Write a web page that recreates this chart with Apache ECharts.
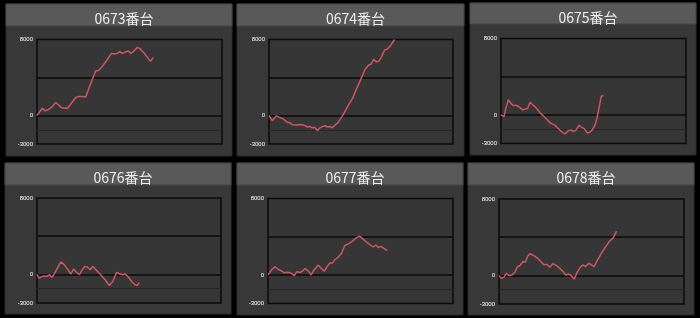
<!DOCTYPE html>
<html>
<head>
<meta charset="utf-8">
<script src="https://cdn.jsdelivr.net/npm/echarts@6/dist/echarts.min.js"></script>
<style>
  html, body { margin: 0; padding: 0; background: #000; }
  #chart { width: 700px; height: 318px; }
</style>
</head>
<body>
<div id="chart"></div>
<script>
// Machine names shown in each panel header
const machines = ['0673番台', '0674番台', '0675番台', '0676番台', '0677番台', '0678番台'];

// Y-axis range and the labelled ticks
const yMin = -3000;
const yMax = 8000;
const yTickLabels = [8000, 0, -3000];
// Horizontal reference lines inside each plot
const strongLines = [4000, 0];
const faintLines = [-1500];

// Game count (x) and coin difference (y) for each machine
const games0673 = [0,289,433,650,830,1011,1191,1336,1498,1643,1859,2094,2220,2310,2455,2635,2708,2942,3177,3321,3484,3718,4025,4170,4332,4477,4621,4801,4946,5072,5235,5415,5560,5776,6011,6137,6282];
const diff0673  = [0,770,490,660,940,1360,1080,800,800,730,1290,1890,1990,1890,1990,1960,2130,3570,4720,4720,5070,5660,6540,6470,6540,6710,6540,6710,6780,6540,6780,7170,7060,6610,6010,5700,6120];

const games0674 = [0,90,181,289,415,542,722,866,993,1119,1264,1372,1480,1588,1715,1805,1949,2076,2202,2347,2491,2635,2744,2924,3069,3195,3321,3430,3538,3755,4025,4296,4549,4693,4910,5090,5235,5415,5560,5686,5812,5957,6101,6282,6408,6588,6823];
const diff0674  = [0,-280,-520,-560,-30,-170,-310,-520,-730,-730,-980,-870,-1010,-870,-940,-1150,-1050,-1220,-1150,-1290,-1260,-1610,-1330,-1150,-1080,-1220,-1150,-1290,-1220,-730,70,1010,1820,2520,3460,4270,4900,5320,5420,5910,5670,5700,6120,6890,6960,7310,8000];

const games0675 = [0,90,162,253,397,523,668,794,939,1047,1173,1300,1444,1570,1697,1841,1986,2112,2292,2473,2653,2888,3069,3249,3466,3646,3791,3917,4061,4224,4368,4513,4657,4801,4946,5090,5199,5307,5415,5542];
const diff0675  = [0,-180,-180,630,1580,1230,950,1020,880,700,530,600,700,1330,1090,840,530,210,-110,-460,-840,-1050,-1370,-1720,-2000,-1650,-1580,-1750,-1580,-1090,-1300,-1470,-1890,-1820,-1540,-1020,-250,810,1930,2040];

const games0676 = [0,108,217,361,542,686,812,939,1119,1300,1480,1661,1841,1986,2130,2310,2455,2599,2744,2888,3032,3249,3466,3700,3935,4116,4332,4513,4657,4801,4964,5144,5325,5451,5560];
const diff0676  = [0,-390,-280,-180,-210,-40,-320,40,670,1300,1020,560,40,560,250,-40,460,840,740,490,840,390,-40,-560,-1160,-740,210,40,-40,40,-280,-740,-1090,-1160,-840];

const games0677 = [0,199,379,560,740,884,1065,1245,1426,1552,1733,1859,2004,2184,2328,2509,2726,2906,3051,3177,3357,3484,3628,3809,3989,4134,4260,4440,4621,4747,4946,5108,5289,5487,5686,5830,5975,6119,6264,6444];
const diff0677  = [0,530,850,560,390,210,280,180,-70,320,250,390,670,390,0,560,1020,630,390,810,1270,1230,1620,1870,2320,3030,3170,3350,3630,3840,4050,3800,3490,3200,2920,3130,2850,2990,2780,2540];

const games0678 = [0,126,271,397,542,704,848,993,1137,1300,1426,1534,1661,1787,1931,2076,2256,2437,2581,2744,2924,3105,3285,3466,3610,3773,3917,4061,4242,4422,4549,4675,4855,4999,5144,5325,5542,5758,5975,6173,6354];
const diff0678  = [0,-320,-180,210,-40,40,320,890,1030,1450,1380,1950,2270,2160,2020,1810,1450,1100,1170,850,1240,1030,740,390,40,140,-40,-390,390,920,1100,920,1270,1100,920,1630,2340,2970,3580,3930,4640];

const gamesList = [games0673, games0674, games0675, games0676, games0677, games0678];
const diffList  = [diff0673, diff0674, diff0675, diff0676, diff0677, diff0678];

// Panel frames (outer box, header bar) and plot rectangles, in pixels
const panels = [
  { x: 6,   y: 4,   w: 226, h: 152, head: 22, plot: { left: 37,  top: 39.5, width: 185, height: 104.5 } },
  { x: 237, y: 4,   w: 227, h: 152, head: 22, plot: { left: 269, top: 39.5, width: 184, height: 104.5 } },
  { x: 470, y: 3,   w: 226, h: 152, head: 21, plot: { left: 501, top: 38.5, width: 185, height: 105 } },
  { x: 5,   y: 163, w: 226, h: 151, head: 22, plot: { left: 37,  top: 198,  width: 184, height: 105 } },
  { x: 237, y: 163, w: 226, h: 152, head: 22, plot: { left: 268, top: 198.5, width: 185, height: 105 } },
  { x: 468, y: 163, w: 226, h: 152, head: 22, plot: { left: 499, top: 199,  width: 185, height: 105 } }
];

const graphics = [];
const titles = [];
const grids = [];
const xAxes = [];
const yAxes = [];
const series = [];

panels.forEach((p, i) => {
  // panel body
  graphics.push({
    type: 'rect', silent: true, z: 0,
    shape: { x: p.x, y: p.y, width: p.w, height: p.h },
    style: { fill: '#383838', stroke: '#2a2a2a', lineWidth: 1 }
  });
  // header bar
  graphics.push({
    type: 'rect', silent: true, z: 1,
    shape: { x: p.x, y: p.y, width: p.w, height: p.head },
    style: { fill: '#595959', stroke: '#454545', lineWidth: 1 }
  });
  titles.push({
    text: machines[i],
    left: p.x + p.w / 2,
    top: p.y + 3,
    textAlign: 'center',
    textStyle: { color: '#eeeeee', fontSize: 14, fontWeight: 'normal', fontFamily: '"Noto Sans CJK JP", "Noto Sans", sans-serif' }
  });
  grids.push({
    left: p.plot.left, top: p.plot.top, width: p.plot.width, height: p.plot.height,
    show: true, backgroundColor: '#363636', borderColor: '#0a0a0a', borderWidth: 1.5, z: 2
  });
  xAxes.push({
    type: 'value', gridIndex: i, min: 0, max: 10000, show: false
  });
  yAxes.push({
    type: 'value', gridIndex: i, min: yMin, max: yMax, interval: 1000,
    axisLine: { show: false }, axisTick: { show: false }, splitLine: { show: false },
    axisLabel: {
      color: '#ffffff', fontSize: 6, margin: 4, fontFamily: 'Liberation Sans, Arial, sans-serif',
      formatter: v => (yTickLabels.indexOf(v) >= 0 ? String(v) : '')
    }
  });
  const points = gamesList[i].map((g, k) => [g, diffList[i][k]]);
  series.push({
    type: 'line', xAxisIndex: i, yAxisIndex: i,
    data: points, showSymbol: false, symbol: 'none',
    lineStyle: { color: '#d05562', width: 1.5 },
    animation: false, z: 5,
    markLine: {
      silent: true, symbol: 'none', label: { show: false }, animation: false,
      data: strongLines.map(v => ({ yAxis: v, lineStyle: { color: '#0a0a0a', width: 1.5, type: 'solid' } }))
        .concat(faintLines.map(v => ({ yAxis: v, lineStyle: { color: '#262626', width: 1, type: 'solid' } })))
    }
  });
});

const chart = echarts.init(document.getElementById('chart'), null, { renderer: 'canvas' });
chart.setOption({
  backgroundColor: '#000000',
  animation: false,
  graphic: graphics,
  title: titles,
  grid: grids,
  xAxis: xAxes,
  yAxis: yAxes,
  series: series
});
</script>
</body>
</html>
